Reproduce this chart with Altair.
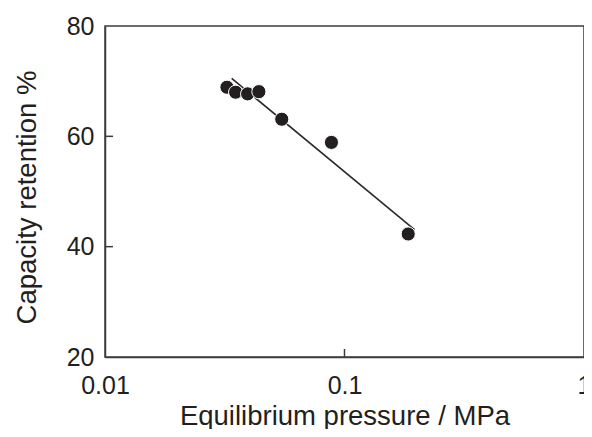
import altair as alt
import pandas as pd

# data
pressure = [0.0323, 0.0351, 0.0394, 0.0439, 0.0547, 0.0882, 0.1845]
retention = [68.9, 68.0, 67.7, 68.1, 63.1, 58.9, 42.3]
fit_x = [0.0338, 0.196]
fit_y = [70.5, 43.1]
x_ticks = [0.01, 0.1, 1]
y_ticks = [20, 40, 60, 80]
x_inner_ticks = [0.1]
y_inner_ticks = [40, 60]

W, H = 479, 331
INK = "#231f20"
FRAME = "#3c3c3c"
FONT = "Liberation Sans"

pts = pd.DataFrame({"p": pressure, "r": retention})
fit = pd.DataFrame({"p": fit_x, "r": fit_y})
xt = pd.DataFrame({"p": x_inner_ticks})
yt = pd.DataFrame({"r": y_inner_ticks})

xscale = alt.Scale(type="log", domain=[0.01, 1])
yscale = alt.Scale(domain=[20, 80])

xaxis = alt.Axis(
    values=x_ticks, format="~g", grid=False, ticks=False, tickSize=0,
    labelFontSize=25, labelFont=FONT, labelColor=INK, labelPadding=16,
    labelFlush=False, labelOverlap=False, labelBound=False,
    title="Equilibrium pressure / MPa", titleFont=FONT, titleFontSize=27.5,
    titleFontWeight="normal", titleColor=INK, titleBaseline="alphabetic",
    titleY=67, titleX=W / 2, titleAnchor="middle",
    domainColor=FRAME, domainWidth=1.5,
)
yaxis = alt.Axis(
    values=y_ticks, grid=False, ticks=False, tickSize=0,
    labelFontSize=25, labelFont=FONT, labelColor=INK, labelPadding=11,
    labelFlush=False, labelOverlap=False, labelBound=False,
    title="Capacity retention %", titleFont=FONT, titleFontSize=27.5,
    titleFontWeight="normal", titleColor=INK, titleBaseline="alphabetic",
    titleAngle=-90, titleX=-70, titleY=171, titleAlign="center",
    domainColor=FRAME, domainWidth=1.5,
)

line = alt.Chart(fit).mark_line(color="#2a2a2a", strokeWidth=1.6).encode(
    x=alt.X("p:Q", scale=xscale, axis=xaxis),
    y=alt.Y("r:Q", scale=yscale, axis=yaxis),
)
points = alt.Chart(pts).mark_point(
    shape="circle", filled=True, size=200, fill=INK, stroke="white",
    strokeWidth=1, opacity=1,
).encode(
    x=alt.X("p:Q", scale=xscale),
    y=alt.Y("r:Q", scale=yscale),
)
xtick_layer = alt.Chart(xt).mark_rule(color=FRAME, strokeWidth=1.5).encode(
    x=alt.X("p:Q", scale=xscale),
    y=alt.value(H),
    y2=alt.value(H - 8),
)
ytick_layer = alt.Chart(yt).mark_rule(color=FRAME, strokeWidth=1.5).encode(
    y=alt.Y("r:Q", scale=yscale),
    x=alt.value(0),
    x2=alt.value(8),
)

chart = alt.layer(xtick_layer, ytick_layer, line, points).properties(
    width=W, height=H,
    autosize=alt.AutoSizeParams(type="none"),
    padding={"left": 97, "top": 18, "right": 0, "bottom": 72},
    background="white",
).configure_view(stroke=FRAME, strokeWidth=1.5)

chart.save("out.html", embed_options={"renderer": "svg", "actions": False})
